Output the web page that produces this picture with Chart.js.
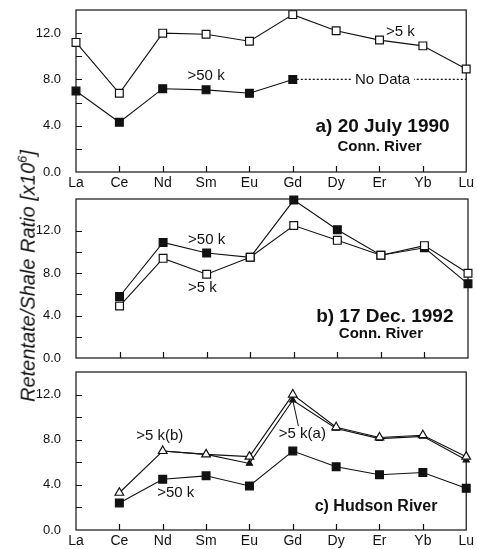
<!DOCTYPE html>
<html><head><meta charset="utf-8">
<script src="https://cdn.jsdelivr.net/npm/chart.js@4"></script>
<style>
html,body{margin:0;padding:0;background:#fff;}
#wrap{position:relative;width:477px;height:549px;overflow:hidden;background:#fff;}
canvas{position:absolute;left:0;}
#ytitle{position:absolute;left:27px;top:276px;transform:translate(-50%,-50%) rotate(-90deg);
 font:italic 20px "Liberation Sans",Arial,sans-serif;white-space:nowrap;color:#111;}
#ytitle sup{font-size:13px;}
</style></head>
<body><div id="wrap">
<canvas id="ca" width="477" height="195" style="top:0px"></canvas>
<canvas id="cb" width="477" height="180" style="top:189px"></canvas>
<canvas id="cc" width="477" height="187" style="top:362px"></canvas>
<div id="ytitle">Retentate/Shale Ratio [x10<sup>6</sup>]</div>
</div>
<script>
// ---- data ----
const elements = ['La','Ce','Nd','Sm','Eu','Gd','Dy','Er','Yb','Lu'];
// panel a) 20 July 1990, Conn. River
const a_gt5k  = [11.2, 6.8, 12.0, 11.9, 11.3, 13.6, 12.2, 11.4, 10.9, 8.9];
const a_gt50k = [7.0, 4.3, 7.2, 7.1, 6.8, 8.0, null, null, null, null];
const a_noData = [null, null, null, null, null, 8.0, 8.0, 8.0, 8.0, 8.0];
// panel b) 17 Dec. 1992, Conn. River
const b_gt5k  = [null, 4.9, 9.4, 7.9, 9.5, 12.5, 11.1, 9.7, 10.6, 8.0];
const b_gt50k = [null, 5.8, 10.9, 9.9, 9.5, 14.9, 12.1, 9.7, 10.4, 7.0];
// panel c) Hudson River
const c_gt5kB = [null, 3.3, 7.0, 6.7, 6.5, 12.0, 9.1, 8.2, 8.4, 6.5];
const c_gt5kA = [null, null, 7.0, 6.7, 5.9, 11.5, 9.0, 8.1, 8.3, 6.2];
const c_gt50k = [null, 2.4, 4.5, 4.8, 3.9, 7.0, 5.6, 4.9, 5.1, 3.7];
// axis ranges / tick labels
const yMaxA = 14, yMaxB = 15, yMaxC = 14;
const yStep = 2, yLabelEvery = 4;

const FAM = '"Liberation Sans", Arial, Helvetica, sans-serif';
const INK = '#111';

const framePlugin = {
  id:'frame',
  beforeDatasetsDraw(chart){
    const {ctx, chartArea:a, scales:{x,y}} = chart;
    ctx.save(); ctx.strokeStyle=INK; ctx.lineWidth=1.2;
    ctx.strokeRect(a.left, a.top, a.right-a.left, a.bottom-a.top);
    ctx.beginPath();
    for (let i=1;i<elements.length-1;i++){
      const px = Math.round(x.getPixelForValue(i))+0.5;
      ctx.moveTo(px,a.bottom); ctx.lineTo(px,a.bottom-6);
    }
    y.ticks.forEach(t=>{
      if (t.value>0 && t.value<y.max){
        const py=Math.round(y.getPixelForValue(t.value))+0.5;
        ctx.moveTo(a.left,py); ctx.lineTo(a.left+6,py);
      }
    });
    ctx.stroke(); ctx.restore();
  }
};
const notesPlugin = {
  id:'notes',
  afterDatasetsDraw(chart, args, opts){
    const ctx=chart.ctx, xs=chart.scales.x, ys=chart.scales.y;
    ctx.save();
    (opts.lines||[]).forEach(l=>{
      ctx.strokeStyle=INK; ctx.lineWidth=1;
      ctx.beginPath();
      ctx.moveTo(xs.getPixelForValue(l.x1), ys.getPixelForValue(l.y1));
      ctx.lineTo(xs.getPixelForValue(l.x2), ys.getPixelForValue(l.y2));
      ctx.stroke();
    });
    (opts.items||[]).forEach(it=>{
      const px=xs.getPixelForValue(it.x), py=ys.getPixelForValue(it.y);
      ctx.font=(it.bold?'bold ':'')+it.size+'px '+FAM;
      ctx.textAlign='center'; ctx.textBaseline='middle';
      if (it.bg){
        const w=ctx.measureText(it.text).width;
        ctx.fillStyle='#fff'; ctx.fillRect(px-w/2-4, py-it.size*0.6, w+8, it.size*1.2);
      }
      ctx.fillStyle=INK; ctx.fillText(it.text, px, py);
    });
    ctx.restore();
  }
};

function ds(data, style, filled, radius, extra){
  return Object.assign({
    data, borderColor:INK, borderWidth:1.1, pointStyle:style, pointRadius:radius,
    pointBackgroundColor: filled?INK:'#fff', pointBorderColor:INK, pointBorderWidth:1.2,
    clip:false, tension:0, spanGaps:false
  }, extra||{});
}

function makeChart(id, datasets, yMax, padTop, xHeight, showX, notes){
  return new Chart(document.getElementById(id), {
    type:'line',
    data:{labels:elements, datasets},
    options:{
      responsive:false, animation:false, events:[],
      layout:{padding:{left:0,right:9,top:padTop,bottom:0}},
      plugins:{legend:{display:false}, tooltip:{enabled:false}, notes},
      scales:{
        x:{offset:false, grid:{display:false,drawTicks:false}, border:{display:false},
           ticks:{display:showX, padding:3, autoSkip:false, maxRotation:0, color:INK,
                  font:{size:14,family:FAM}},
           afterFit(s){ s.height=xHeight; }},
        y:{min:0, max:yMax,
           grid:{display:true, drawOnChartArea:false, drawTicks:true, tickLength:15,
                 tickColor:'rgba(0,0,0,0)', color:'rgba(0,0,0,0)'},
           border:{display:false},
           ticks:{stepSize:yStep, padding:0, color:INK, font:{size:13,family:FAM},
                  callback:v=> (v%yLabelEvery===0 ? v.toFixed(1) : '')},
           afterFit(s){ s.width=76; }}
      }
    },
    plugins:[framePlugin, notesPlugin]
  });
}

makeChart('ca', [
  ds(a_gt5k,'rect',false,5.5),
  ds(a_gt50k,'rect',true,5.5),
  ds(a_noData,'rect',true,0,{borderDash:[2,2],borderWidth:1.2})
], yMaxA, 10, 23, true, {
  items:[
    {text:'>5 k', x:7.48, y:12.1, size:15},
    {text:'>50 k', x:3.0, y:8.3, size:15},
    {text:'No Data', x:7.07, y:7.95, size:15, bg:true},
    {text:'a) 20 July 1990', x:7.07, y:3.9, size:19, bold:true},
    {text:'Conn. River', x:7.0, y:2.16, size:15, bold:true}
  ]
});

makeChart('cb', [
  ds(b_gt5k,'rect',false,5.5),
  ds(b_gt50k,'rect',true,5.5)
], yMaxB, 10, 11, false, {
  items:[
    {text:'>50 k', x:3.0, y:11.1, size:15},
    {text:'>5 k', x:2.9, y:6.65, size:15},
    {text:'b) 17 Dec. 1992', x:7.09, y:3.9, size:19, bold:true},
    {text:'Conn. River', x:7.0, y:2.26, size:15, bold:true}
  ]
});

makeChart('cc', [
  ds(c_gt5kB,'triangle',false,5),
  ds(c_gt5kA,'triangle',true,3.5),
  ds(c_gt50k,'rect',true,5.5)
], yMaxC, 10, 19, true, {
  lines:[{x1:5.0, y1:11.5, x2:5.13, y2:9.2}],
  items:[
    {text:'>5 k(b)', x:1.93, y:8.3, size:15},
    {text:'>5 k(a)', x:5.22, y:8.5, size:15},
    {text:'>50 k', x:2.3, y:3.3, size:15},
    {text:'c) Hudson River', x:6.92, y:2.1, size:16, bold:true}
  ]
});
</script>
</body></html>
